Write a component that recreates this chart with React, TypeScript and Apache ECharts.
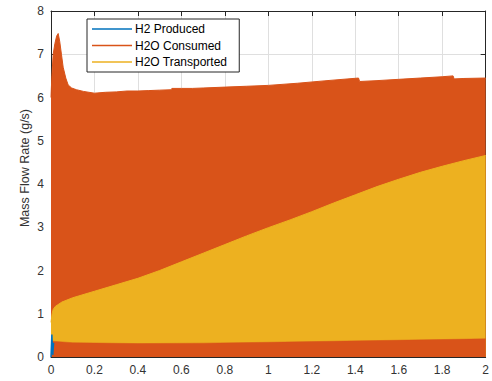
import React, { useEffect, useRef } from "react";
import * as echarts from "echarts";

// H2O Consumed (upper envelope)
const consumedX = [0, 0.004, 0.01, 0.018, 0.026, 0.033, 0.04, 0.048, 0.056, 0.068, 0.079, 0.095, 0.117, 0.15, 0.2, 0.25, 0.3, 0.35, 0.4, 0.45, 0.5, 0.555, 0.556, 0.6, 0.65, 0.7, 0.8, 0.9, 1.0, 1.135, 1.27, 1.415, 1.42, 1.5, 1.6, 1.7, 1.8, 1.85, 1.855, 1.9, 2.0];
const consumedTop = [6.0, 6.5, 7.0, 7.25, 7.42, 7.48, 7.3, 7.0, 6.7, 6.45, 6.29, 6.22, 6.18, 6.14, 6.1, 6.12, 6.13, 6.15, 6.15, 6.16, 6.17, 6.18, 6.21, 6.21, 6.21, 6.22, 6.24, 6.26, 6.28, 6.33, 6.39, 6.45, 6.37, 6.39, 6.42, 6.45, 6.48, 6.5, 6.43, 6.44, 6.45];

// H2O Transported (upper envelope)
const transX = [0, 0.005, 0.01, 0.02, 0.05, 0.1, 0.2, 0.3, 0.4, 0.5, 0.6, 0.7, 0.8, 0.9, 1.0, 1.1, 1.2, 1.3, 1.4, 1.5, 1.6, 1.7, 1.8, 1.9, 2.0];
const transTop = [0.8, 1.0, 1.1, 1.17, 1.27, 1.37, 1.52, 1.67, 1.82, 2.0, 2.2, 2.4, 2.6, 2.8, 2.99, 3.17, 3.36, 3.56, 3.75, 3.94, 4.11, 4.27, 4.41, 4.54, 4.66];

// H2O Consumed (lower band, minimum of oscillation visible below transported)
const bandX = [0, 0.02, 0.1, 0.4, 0.7, 1.0, 1.5, 2.0];
const bandTop = [0.37, 0.36, 0.33, 0.31, 0.32, 0.34, 0.38, 0.42];

// H2 Produced (visible start-up spike)
const h2X = [0, 0.004, 0.008, 0.012];
const h2Y = [0.0, 0.52, 0.05, 0.33];

const legendNames = ["H2 Produced", "H2O Consumed", "H2O Transported"];

const xTicks = { min: 0, max: 2, interval: 0.2 };
const yTicks = { min: 0, max: 8, interval: 1 };

const BLUE = "#0072BD";
const ORANGE = "#D95319";
const YELLOW = "#EDB120";
const AXIS = "#262626";
const GRID = "#dfdfdf";
const FONT = "Liberation Sans, Arial, sans-serif";

const pairs = (xs: number[], ys: number[]) => xs.map((x, i) => [x, ys[i]]);

export default function App() {
  const ref = useRef<HTMLDivElement>(null);
  useEffect(() => {
    if (!ref.current) return;
    const chart = echarts.init(ref.current, undefined, { renderer: "svg" });
    const tickLabel = { color: "#333", fontSize: 12, fontFamily: FONT };
    chart.setOption({
      animation: false,
      backgroundColor: "#ffffff",
      grid: { left: 51, right: 2, top: 11, bottom: 24, containLabel: false },
      legend: {
        show: true,
        data: legendNames.map((n) => ({ name: n, icon: "rect" })),
        orient: "vertical",
        left: 87,
        top: 19,
        padding: [3, 12, 3, 5],
        itemWidth: 40,
        itemHeight: 1.5,
        itemGap: 2.5,
        backgroundColor: "#ffffff",
        borderColor: AXIS,
        borderWidth: 1,
        borderRadius: 0,
        textStyle: { color: "#000", fontSize: 12, lineHeight: 14, fontFamily: FONT, padding: [0, 0, 0, -2] },
        selectedMode: false,
      },
      xAxis: [
        {
          type: "value",
          ...xTicks,
          position: "bottom",
          axisLine: { show: true, onZero: false, lineStyle: { color: AXIS, width: 1 } },
          axisTick: { show: true, inside: true, length: 5, lineStyle: { color: AXIS } },
          axisLabel: {
            ...tickLabel,
            margin: 7,
            formatter: (v: number) => String(Number(v.toFixed(1))),
          },
          splitLine: { show: true, lineStyle: { color: GRID, width: 1 } },
        },
        {
          type: "value",
          ...xTicks,
          position: "top",
          axisLine: { show: true, onZero: false, lineStyle: { color: AXIS, width: 1 } },
          axisTick: { show: true, inside: true, length: 5, lineStyle: { color: AXIS } },
          axisLabel: { show: false },
          splitLine: { show: false },
        },
      ],
      yAxis: [
        {
          type: "value",
          ...yTicks,
          position: "left",
          axisLine: { show: true, onZero: false, lineStyle: { color: AXIS, width: 1 } },
          axisTick: { show: true, inside: true, length: 5, lineStyle: { color: AXIS } },
          axisLabel: { ...tickLabel, margin: 7 },
          splitLine: { show: true, lineStyle: { color: GRID, width: 1 } },
        },
        {
          type: "value",
          ...yTicks,
          position: "right",
          axisLine: { show: true, onZero: false, lineStyle: { color: AXIS, width: 1 } },
          axisTick: { show: true, inside: true, length: 5, lineStyle: { color: AXIS } },
          axisLabel: { show: false },
          splitLine: { show: false },
        },
      ],
      graphic: [
        {
          type: "text",
          x: 25,
          y: 168,
          rotation: Math.PI / 2,
          style: {
            text: "Mass Flow Rate (g/s)",
            fill: "#333",
            font: "12.5px 'Liberation Sans', Arial, sans-serif",
            align: "center",
            verticalAlign: "middle",
            textAlign: "center",
            textVerticalAlign: "middle",
          },
        },
      ],
      series: [
        {
          name: "H2O Consumed",
          type: "line",
          data: pairs(consumedX, consumedTop),
          symbol: "none",
          color: ORANGE,
          lineStyle: { color: ORANGE, width: 1 },
          areaStyle: { color: ORANGE, opacity: 1, origin: 0 },
          z: 2,
        },
        {
          name: "H2O Transported",
          type: "line",
          data: pairs(transX, transTop),
          symbol: "none",
          color: YELLOW,
          lineStyle: { color: YELLOW, width: 1 },
          areaStyle: { color: YELLOW, opacity: 1, origin: 0 },
          z: 3,
        },
        {
          name: "H2O Consumed",
          type: "line",
          data: pairs(bandX, bandTop),
          symbol: "none",
          color: ORANGE,
          lineStyle: { color: ORANGE, width: 0.5 },
          areaStyle: { color: ORANGE, opacity: 1, origin: 0 },
          z: 4,
        },
        {
          name: "H2 Produced",
          type: "line",
          data: pairs(h2X, h2Y),
          symbol: "none",
          color: BLUE,
          lineStyle: { color: BLUE, width: 1.5 },
          z: 5,
        },
      ],
    });
    return () => chart.dispose();
  }, []);
  return (
    <div
      ref={ref}
      style={{ position: "fixed", left: 0, top: 0, width: 492, height: 381, background: "#fff" }}
    />
  );
}
